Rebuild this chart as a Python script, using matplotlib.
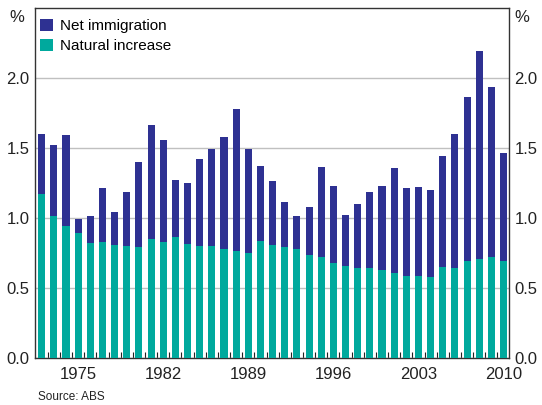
import matplotlib
matplotlib.use("Agg")
import matplotlib.pyplot as plt
import numpy as np

plt.rcParams['font.family'] = ['Liberation Sans', 'DejaVu Sans']

years = list(range(1972, 2011))
total = [1.602, 1.524, 1.595, 0.995, 1.016, 1.216, 1.045, 1.188, 1.402, 1.667,
         1.560, 1.274, 1.252, 1.424, 1.495, 1.581, 1.781, 1.495, 1.374, 1.267,
         1.117, 1.016, 1.081, 1.366, 1.231, 1.024, 1.102, 1.188, 1.231, 1.359,
         1.216, 1.224, 1.202, 1.445, 1.602, 1.867, 2.195, 1.938, 1.466]
natural = [1.174, 1.016, 0.945, 0.895, 0.824, 0.831, 0.810, 0.802, 0.795, 0.852,
           0.831, 0.867, 0.817, 0.802, 0.802, 0.781, 0.767, 0.752, 0.838, 0.810,
           0.795, 0.781, 0.738, 0.724, 0.681, 0.660, 0.645, 0.645, 0.631, 0.609,
           0.588, 0.588, 0.581, 0.652, 0.645, 0.695, 0.709, 0.724, 0.695]
net_migration = [round(t - n, 3) for t, n in zip(total, natural)]
label_years = [1975, 1982, 1989, 1996, 2003, 2010]
ytick_vals = [0.0, 0.5, 1.0, 1.5, 2.0]

navy = '#2E3192'
teal = '#00A99D'

fig = plt.figure(figsize=(5.42, 4.05), dpi=100)
ax = fig.add_axes([35/542, (405-358.3)/405, (509-35)/542, (358.3-8.3)/405])

ax.bar(years, natural, width=0.58, color=teal, label='Natural increase', zorder=3)
ax.bar(years, net_migration, width=0.58, bottom=natural, color=navy,
       label='Net immigration', zorder=3)

ax.set_xlim(1971.45, 2010.45)
ax.set_ylim(0, 2.5)
ax.set_yticks(ytick_vals)
ax.set_yticklabels([f'{v:.1f}' for v in ytick_vals])
ax.yaxis.grid(True, color='#C0C0C0', linewidth=1.0, zorder=0)
ax.set_axisbelow(True)
ax.tick_params(axis='y', length=0, labelsize=12, pad=4, colors='#222222',
               labelright=True, right=False)
ax.set_xticks(label_years)
ax.set_xticklabels([str(y) for y in label_years])
ax.set_xticks([y - 0.5 for y in years[1:]], minor=True)
ax.tick_params(axis='x', which='major', length=0, labelsize=12, pad=6, colors='#222222')
ax.tick_params(axis='x', which='minor', length=4, direction='in', color='#222222', width=0.8)

for s in ax.spines.values():
    s.set_color('#333333')
    s.set_linewidth(1.0)

handles, labels = ax.get_legend_handles_labels()
leg = ax.legend(handles[::-1], labels[::-1], loc='upper left', frameon=False,
                fontsize=11, handlelength=0.8, handleheight=0.8, handletextpad=0.45,
                bbox_to_anchor=(0.005, 0.978), borderaxespad=0.0, labelspacing=0.4,
                borderpad=0.2)

fig.text(17/542, 1 - 18/405, '%', fontsize=12, ha='center', va='center', color='#222222')
fig.text(522/542, 1 - 18/405, '%', fontsize=12, ha='center', va='center', color='#222222')
fig.text(38/542, 1 - 397/405, 'Source: ABS', fontsize=8.5, ha='left', va='center', color='#222222')

fig.savefig('out.png', dpi=100)
